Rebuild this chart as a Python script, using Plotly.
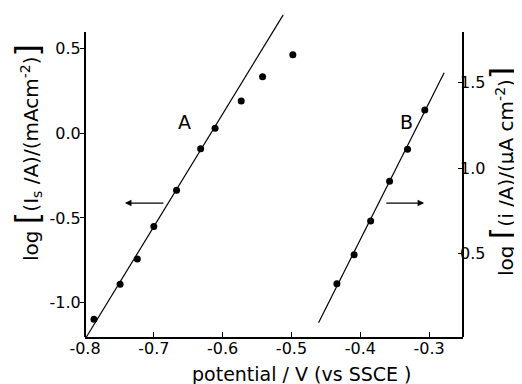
import plotly.graph_objects as go

# Series A (left axis): log[(Is/A)/(mA cm^-2)] vs potential
a_x = [-0.787, -0.749, -0.724, -0.700, -0.667, -0.632, -0.611, -0.573, -0.542, -0.498]
a_y = [-1.098, -0.892, -0.742, -0.551, -0.337, -0.091, 0.030, 0.191, 0.334, 0.464]
a_fit_x = [-0.798, -0.512]
a_fit_y = [-1.203, 0.699]

# Series B (right axis): log[(i/A)/(uA cm^-2)] vs potential
b_x = [-0.434, -0.409, -0.385, -0.3575, -0.3314, -0.3063]
b_y = [0.325, 0.494, 0.691, 0.923, 1.111, 1.340]
b_fit_x = [-0.4607, -0.2782]
b_fit_y = [0.0965, 1.558]

x_ticks = [-0.8, -0.7, -0.6, -0.5, -0.4, -0.3]
x_ticktext = ["-0.8", "-0.7", "-0.6", "-0.5", "-0.4", "-0.3"]
yl_ticks = [-1.0, -0.5, 0.0, 0.5]
yl_ticktext = ["-1.0", "-0.5", "0.0", "0.5"]
yr_ticks = [0.5, 1.0, 1.5]
yr_ticktext = ["0.5", "1.0", "1.5"]

FONT = "DejaVu Sans, Liberation Sans, sans-serif"
BLK = "black"

# the page body has an 8px default margin, so the figure is sized to end at the window edge
OFF = 8
L, T, PW, PH = 85 - OFF, 10 - OFF, 378, 327
W, H = 522 - OFF, 384 - OFF


def px(wx):
    return (wx - OFF - L) / PW


def py(wy):
    return (T + PH - (wy - OFF)) / PH


fig = go.Figure()
fig.add_trace(go.Scatter(x=a_fit_x, y=a_fit_y, mode="lines",
                         line=dict(color=BLK, width=1.2), yaxis="y", showlegend=False))
fig.add_trace(go.Scatter(x=a_x, y=a_y, mode="markers",
                         marker=dict(color=BLK, size=7), yaxis="y", showlegend=False))
fig.add_trace(go.Scatter(x=b_fit_x, y=b_fit_y, mode="lines",
                         line=dict(color=BLK, width=1.2), yaxis="y2", showlegend=False))
fig.add_trace(go.Scatter(x=b_x, y=b_y, mode="markers",
                         marker=dict(color=BLK, size=7), yaxis="y2", showlegend=False))

yl_range = [-1.203, 0.728]
yr_range = [0.013, 1.925]
x_range = [-0.8, -0.2508]

big = '<span style="font-size:32px">'

fig.update_layout(
    width=W, height=H,
    margin=dict(l=L, r=W - L - PW, t=T, b=H - T - PH),
    paper_bgcolor="white", plot_bgcolor="white",
    font=dict(family=FONT, color=BLK, size=16),
    xaxis=dict(range=x_range, tickvals=x_ticks, ticktext=x_ticktext,
               showgrid=False, zeroline=False, showline=True, linecolor=BLK, linewidth=1.6,
               ticks="inside", ticklen=5, tickcolor=BLK, tickfont=dict(size=16),
               ticklabelstandoff=-4),
    yaxis=dict(range=yl_range, tickvals=yl_ticks, ticktext=yl_ticktext,
               showgrid=False, zeroline=False, showline=False,
               ticks="outside", ticklen=4, tickcolor=BLK, tickfont=dict(size=16),
               ticklabelstandoff=-4),
    yaxis2=dict(range=yr_range, tickvals=yr_ticks, ticktext=yr_ticktext, overlaying="y",
                side="right", showgrid=False, zeroline=False, showline=False,
                ticks="inside", ticklen=5, tickcolor=BLK, tickfont=dict(size=16),
                ticklabelstandoff=-4),
    shapes=[
        dict(type="line", xref="paper", yref="y", x0=0, x1=0, y0=yl_range[0], y1=0.598,
             line=dict(color=BLK, width=2)),
        dict(type="line", xref="paper", yref="y2", x0=1, x1=1, y0=yr_range[0], y1=1.796,
             line=dict(color=BLK, width=2)),
    ],
    annotations=[
        dict(text="A", x=-0.655, y=0.068, xref="x", yref="y", showarrow=False,
             font=dict(size=19)),
        dict(text="B", x=-0.3328, y=1.272, xref="x", yref="y2", showarrow=False,
             font=dict(size=19)),
        dict(x=-0.742, y=-0.412, ax=-0.684, ay=-0.412, xref="x", yref="y",
             axref="x", ayref="y", showarrow=True, arrowhead=2, arrowsize=1,
             arrowwidth=1.3, arrowcolor=BLK, text=""),
        dict(x=-0.3073, y=0.796, ax=-0.3644, ay=0.796, xref="x", yref="y2",
             axref="x", ayref="y2", showarrow=True, arrowhead=2, arrowsize=1,
             arrowwidth=1.3, arrowcolor=BLK, text=""),
        dict(text="potential / V (vs SSCE )", x=px(301), y=py(373.7), xref="paper", yref="paper",
             xanchor="center", yanchor="middle", showarrow=False, font=dict(size=19)),
        dict(text='log ' + big + '[</span>(I<sub>s</sub> /A)/(mAcm<sup>-2</sup>)' + big + ']</span>',
             x=px(27), y=py(153), xref="paper", yref="paper", showarrow=False, textangle=-90,
             xanchor="center", yanchor="middle", font=dict(size=20)),
        dict(text='log ' + big + '[</span>(i /A)/(\u03bcA cm<sup>-2</sup>)' + big + ']</span>',
             x=px(502), y=py(172), xref="paper", yref="paper", showarrow=False, textangle=-90,
             xanchor="center", yanchor="middle", font=dict(size=20)),
    ],
)

fig.write_html("out.html")
